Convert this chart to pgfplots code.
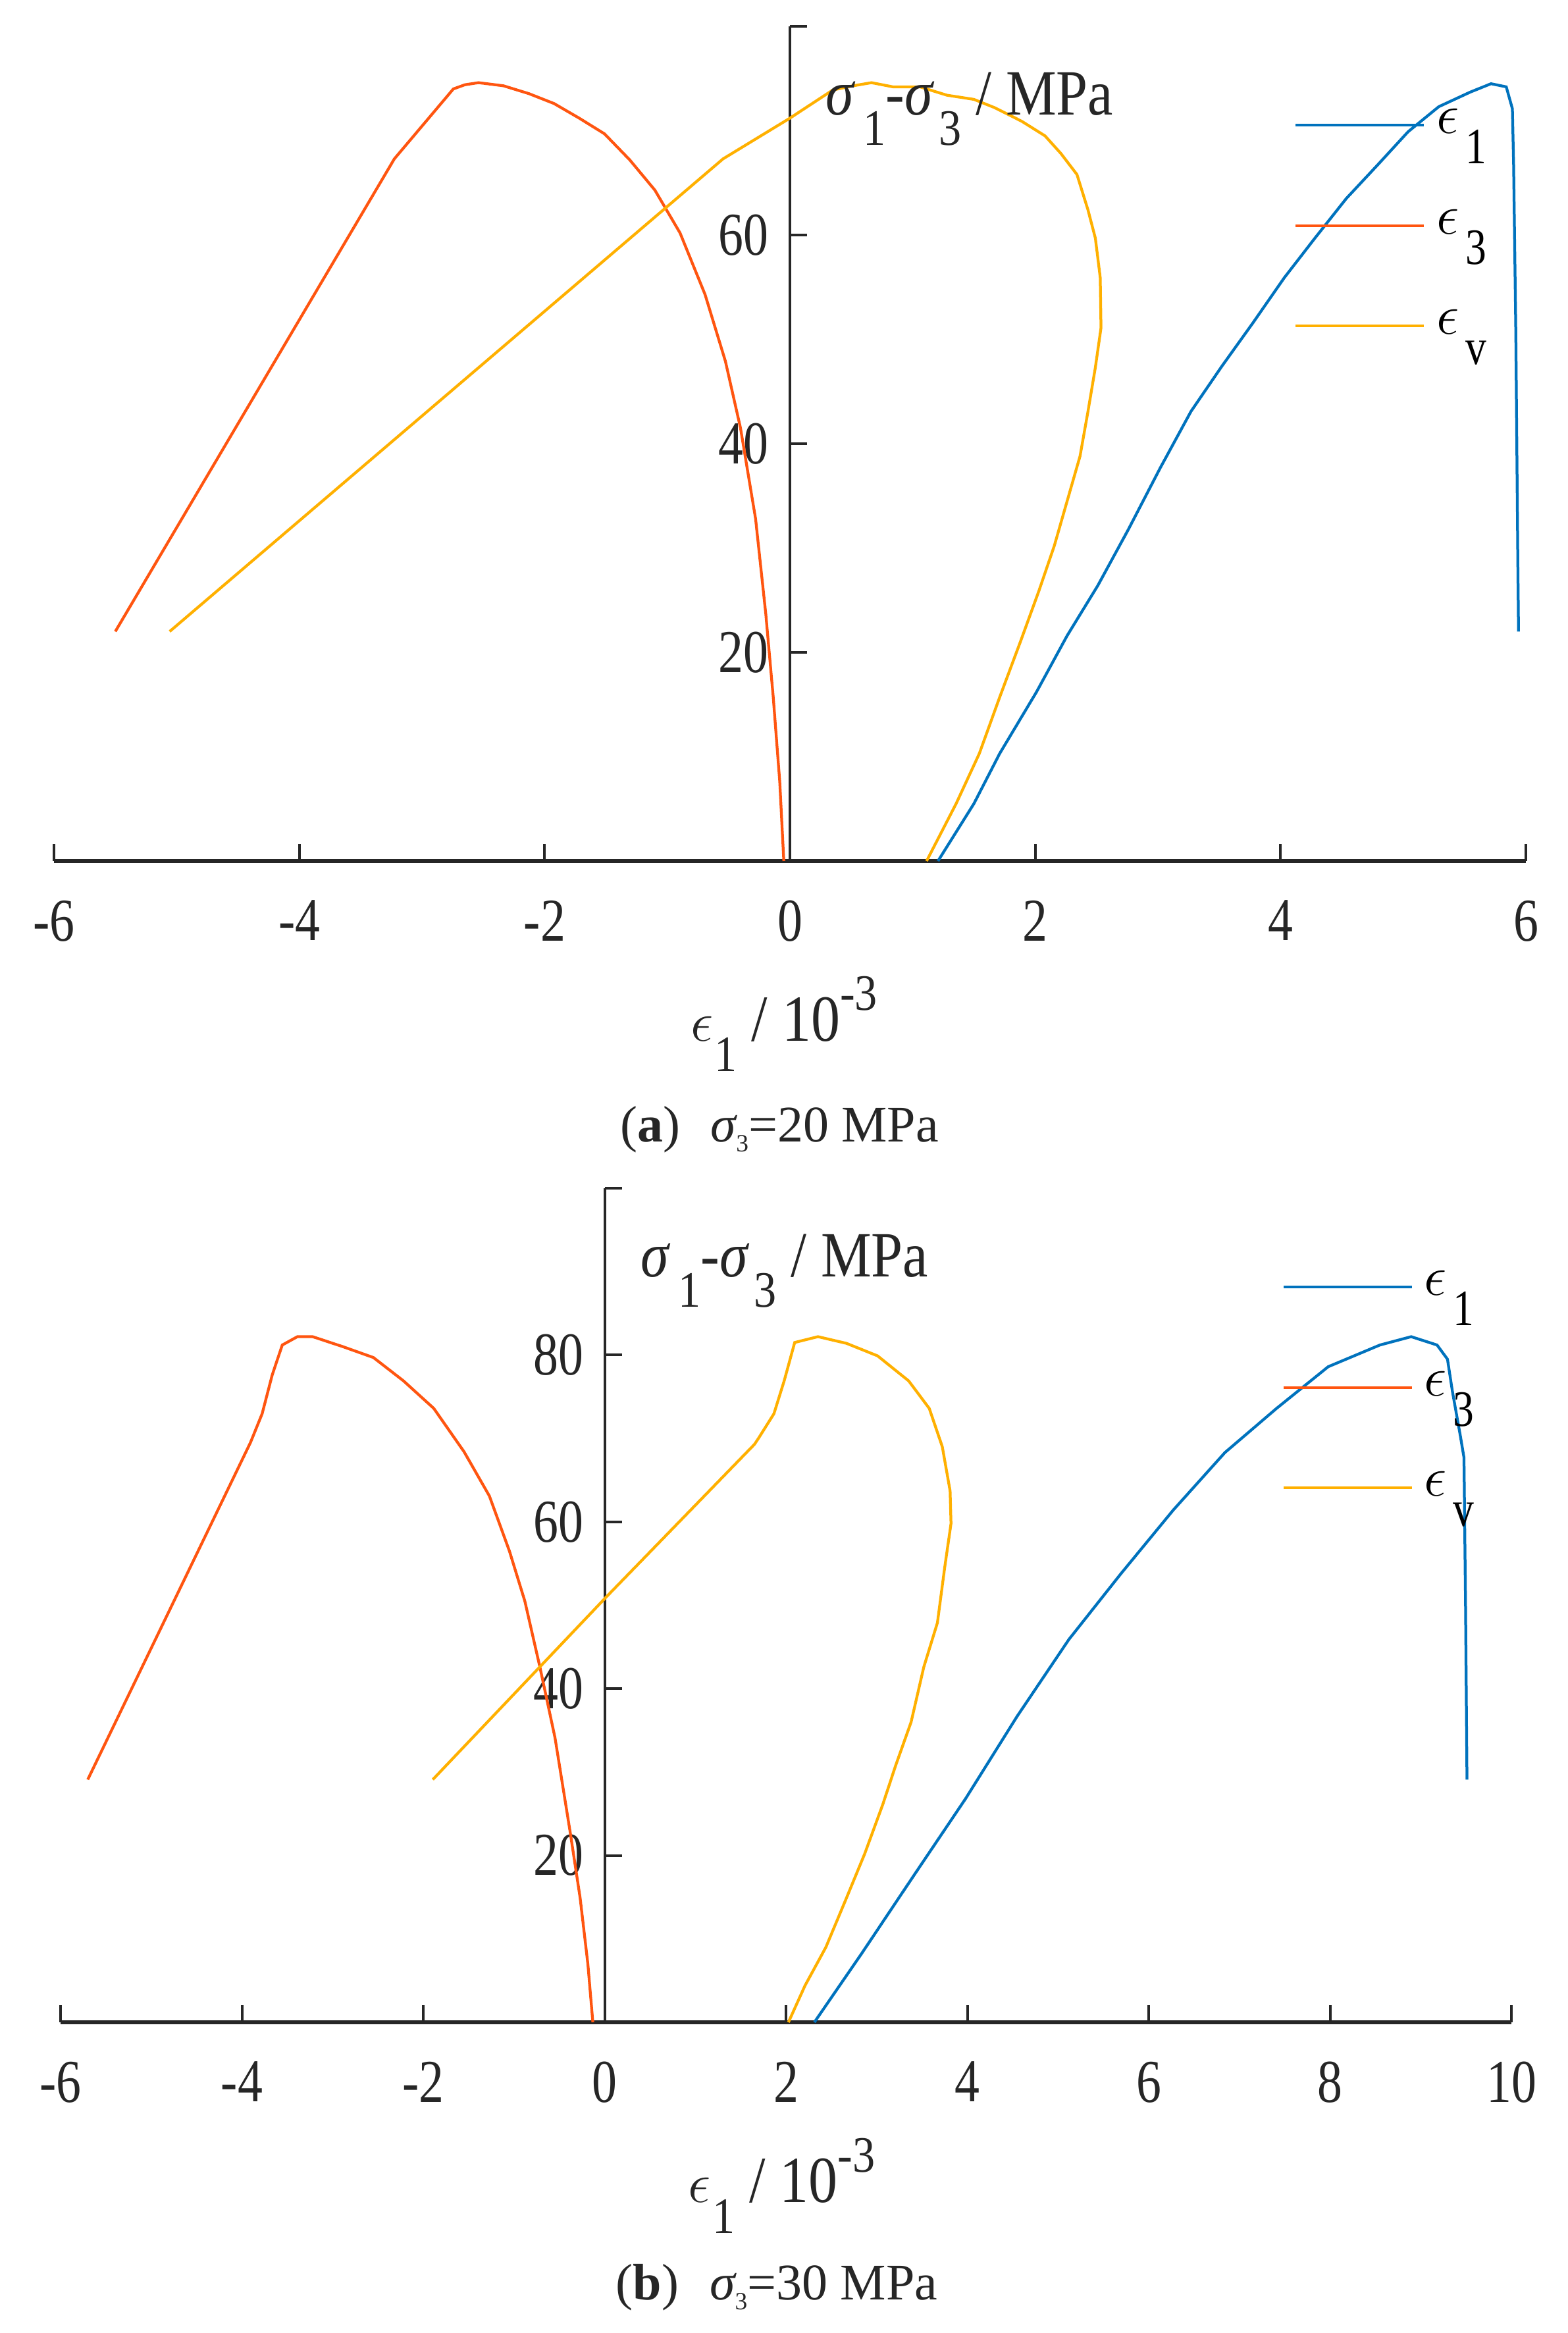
\documentclass[border=0pt]{standalone}
\usepackage{fontspec}
\setmainfont{Liberation Serif}
\newfontfamily\cond{Liberation Serif}[FakeStretch=0.82]
\newfontfamily\condl{Liberation Serif}[FakeStretch=0.88]
\usepackage{pgfplots}
\pgfplotsset{compat=1.18}

\definecolor{mblue}{HTML}{0072BD}
\definecolor{mred}{HTML}{FF5510}
\definecolor{myel}{HTML}{FFB000}
\definecolor{axgray}{HTML}{262626}

\newcommand{\lsub}[1]{\raisebox{-9.2pt}{\fontsize{15.5}{16}\selectfont #1}}
\newcommand{\lsup}[1]{\raisebox{9.4pt}{\fontsize{15.5}{16}\selectfont #1}}
\newcommand{\eps}{{\fontsize{19}{20}\selectfont$\epsilon$}}

\pgfplotsset{
 mystyle/.style={
  scale only axis,
  anchor=south west,
  axis x line*=bottom,
  axis y line*=center,
  hide obscured x ticks=false,
  hide obscured y ticks=false,
  tick align=inside,
  major tick length=5.2pt,
  x axis line style={line width=1.1pt, color=axgray},
  y axis line style={line width=0.8pt, color=axgray},
  major tick style={line width=0.8pt, color=axgray},
  ticklabel style={font=\cond\fontsize{18.5}{20}\selectfont, text=axgray},
  xticklabel style={anchor=north, inner sep=0pt, yshift=-11.8pt},
  yticklabel style={anchor=east, inner sep=0pt, xshift=-6.3pt},
  clip=false,
  legend style={draw=none, fill=none, inner sep=0pt, outer sep=0pt, row sep=12.5pt,
    cells={anchor=base west},
    nodes={inner sep=0pt, text height=8.5pt, text depth=9.5pt},
    /tikz/every odd column/.append style={column sep=3.4pt},
    font=\cond\fontsize{19}{20}\selectfont},
  legend image code/.code={\draw[#1, line width=0.8pt] (0pt,2.5pt) -- (39pt,2.5pt);},
  every axis plot/.append style={line width=0.85pt},
 }
}

\begin{document}
\begin{tikzpicture}
\useasboundingbox (0,0) rectangle (476.2pt,708.8pt);

% ---------------- panel (a) ----------------
\begin{axis}[mystyle,
  at={(16.4pt,447.2pt)}, width=447.2pt, height=253.6pt,
  xmin=-6, xmax=6, ymin=0, ymax=80,
  xtick={-6,-4,-2,0,2,4,6}, xticklabels={-6,-4,-2,0,2,4,6},
  ytick={20,40,60,80}, yticklabels={20,40,60,{}},
  legend style={at={(axis description cs:0.8426,0.905)}, anchor=north west},
]
\addplot[mblue] coordinates {
(1.207,0) (1.50,5.5) (1.71,10.3) (2.01,16.2) (2.26,21.6) (2.51,26.4)
(2.76,31.8) (3.02,37.7) (3.27,43.1) (3.52,47.4) (3.776,51.6) (4.03,55.9)
(4.28,59.7) (4.536,63.5) (4.79,66.7) (5.04,69.9) (5.29,72.3) (5.547,73.7)
(5.716,74.5) (5.84,74.2) (5.89,72.1) (5.90,66.7) (5.918,50.6) (5.934,29.1) (5.94,22.0)
};
\addlegendentry{\eps\kern2pt\lsub{1}}
\addplot[mred] coordinates {
(-0.05,0) (-0.083,7.6) (-0.136,15.7) (-0.197,23.7) (-0.28,32.8) (-0.403,41.5)
(-0.526,47.9) (-0.692,54.3) (-0.896,60.2) (-1.101,64.3) (-1.306,67.2) (-1.512,69.7)
(-1.718,71.2) (-1.923,72.6) (-2.128,73.55) (-2.335,74.3) (-2.539,74.6) (-2.65,74.4)
(-2.744,74.0) (-3.225,67.3) (-5.50,22.0)
};
\addlegendentry{\eps\kern2pt\lsub{3}}
\addplot[myel] coordinates {
(1.114,0) (1.355,5.5) (1.544,10.3) (1.71,15.7) (1.88,21.05) (2.03,25.9)
(2.155,30.2) (2.26,34.5) (2.365,38.8) (2.43,43.1) (2.49,47.3) (2.536,51.1)
(2.53,55.9) (2.49,59.7) (2.43,62.4) (2.34,65.8) (2.21,67.8) (2.08,69.5)
(1.89,70.9) (1.67,72.2) (1.50,73.0) (1.28,73.4) (1.06,74.2) (0.84,74.2)
(0.665,74.6) (0.515,74.3) (0.35,73.9) (0.0,71.2) (-0.545,67.3) (-5.057,22.0)
};
\addlegendentry{\eps\kern2pt\lsub{v}}
\node[anchor=base west, inner sep=0pt, text=axgray, font=\condl\fontsize{19.6}{21}\selectfont]
  at (axis description cs:0.5237,0.8943)
  {{\itshape σ}\kern3pt\lsub{1}-{\itshape σ}\kern2pt\lsub{3} / MPa};
\node[anchor=base, inner sep=0pt, text=axgray, yshift=-54.8pt, xshift=-1.8pt, font=\condl\fontsize{20}{21}\selectfont]
  at (axis description cs:0.5,0)
  {\eps\kern0.5pt\lsub{1} / 10\lsup{-3}};
\end{axis}

% ---------------- panel (b) ----------------
\begin{axis}[mystyle,
  at={(18.4pt,94.4pt)}, width=440.8pt, height=253.4pt,
  xmin=-6, xmax=10, ymin=0, ymax=100,
  xtick={-6,-4,-2,0,2,4,6,8,10}, xticklabels={-6,-4,-2,0,2,4,6,8,10},
  ytick={20,40,60,80,100}, yticklabels={20,40,60,80,{}},
  legend style={at={(axis description cs:0.842,0.9049)}, anchor=north west},
]
\addplot[mblue] coordinates {
(2.313,0) (2.838,8.3) (3.41,17.6) (3.98,26.8) (4.55,36.7) (5.12,45.9)
(5.695,53.8) (6.27,61.4) (6.84,68.3) (7.41,73.6) (7.98,78.6) (8.55,81.2)
(8.895,82.2) (9.18,81.2) (9.295,79.5) (9.35,75.6) (9.437,70.3) (9.477,67.7)
(9.495,49.2) (9.51,29.1)
};
\addlegendentry{\eps\kern2pt\lsub{1}}
\addplot[mred] coordinates {
(-0.13,0) (-0.185,7.0) (-0.27,14.9) (-0.38,22.8) (-0.547,34.1) (-0.714,42.6)
(-0.88,50.5) (-1.05,56.5) (-1.271,63.1) (-1.55,68.4) (-1.884,73.6) (-2.218,76.9)
(-2.55,79.7) (-2.886,81.0) (-3.22,82.2) (-3.388,82.2) (-3.555,81.2) (-3.666,77.6)
(-3.777,72.96) (-3.906,69.5) (-5.70,29.1)
};
\addlegendentry{\eps\kern2pt\lsub{3}}
\addplot[myel] coordinates {
(2.027,0) (2.21,4.4) (2.44,9.0) (2.667,14.9) (2.868,20.2) (3.067,26.1)
(3.21,30.8) (3.38,36.0) (3.52,42.6) (3.67,47.9) (3.75,54.5) (3.82,59.8)
(3.81,63.7) (3.724,69.0) (3.58,73.6) (3.353,76.9) (3.01,79.9) (2.667,81.4)
(2.353,82.2) (2.096,81.5) (1.98,76.9) (1.867,72.96) (1.696,70.0) (1.653,69.3)
(0.01,50.9) (-1.895,29.1)
};
\addlegendentry{\eps\kern2pt\lsub{v}}
\node[anchor=base west, inner sep=0pt, text=axgray, font=\condl\fontsize{19.6}{21}\selectfont]
  at (axis description cs:0.3993,0.8942)
  {{\itshape σ}\kern3pt\lsub{1}-{\itshape σ}\kern2pt\lsub{3} / MPa};
\node[anchor=base, inner sep=0pt, text=axgray, yshift=-54.8pt, xshift=-1.3pt, font=\condl\fontsize{20}{21}\selectfont]
  at (axis description cs:0.5,0)
  {\eps\kern0.5pt\lsub{1} / 10\lsup{-3}};
\end{axis}

% captions
\node[anchor=base, inner sep=0pt, text=axgray, font=\fontsize{15.6}{17}\selectfont] at (236.8pt,361.8pt)
  {(\textbf{a})\hspace{0.6em}{\itshape σ}\raisebox{-3pt}{\fontsize{7.5}{8}\selectfont 3}=20 MPa};
\node[anchor=base, inner sep=0pt, text=axgray, font=\fontsize{15.6}{17}\selectfont] at (236pt,10pt)
  {(\textbf{b})\hspace{0.6em}{\itshape σ}\raisebox{-3pt}{\fontsize{7.5}{8}\selectfont 3}=30 MPa};
\end{tikzpicture}
\end{document}
